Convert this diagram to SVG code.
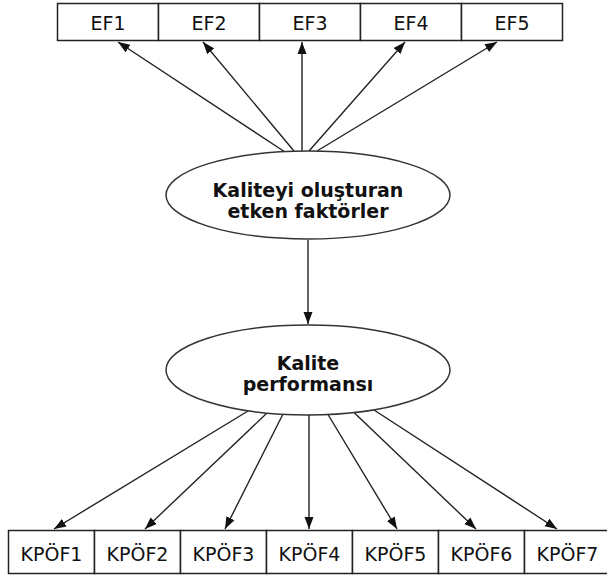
<svg xmlns="http://www.w3.org/2000/svg" width="607" height="579" viewBox="0 0 607 579">
<defs>
<marker id="ah" viewBox="0 0 12 10" refX="12" refY="5" markerWidth="12" markerHeight="10" markerUnits="userSpaceOnUse" orient="auto">
<path d="M0,0.5 L12,5 L0,9.5 z" fill="#111"/>
</marker>
<style>
.box{fill:#fff;stroke:#222;stroke-width:1.5}
.ell{fill:#fff;stroke:#333;stroke-width:1.5}
.lbl{font-family:"DejaVu Sans","Verdana",sans-serif;font-size:19px;fill:#111;text-anchor:middle}
.bold{font-family:"DejaVu Sans","Verdana",sans-serif;font-size:19px;font-weight:bold;fill:#111;text-anchor:middle}
.con line{stroke:#222;stroke-width:1.4;marker-end:url(#ah)}
</style>
</defs>
<rect width="607" height="579" fill="#fff"/>
<g id="connectors" class="con">
<line x1="285" y1="152" x2="118" y2="42"/>
<line x1="294" y1="151" x2="203" y2="42"/>
<line x1="302" y1="151" x2="302" y2="42"/>
<line x1="309" y1="151" x2="405" y2="42"/>
<line x1="317" y1="151" x2="497" y2="42"/>
<line x1="308" y1="240" x2="308" y2="324"/>
<line x1="248" y1="411" x2="54" y2="529"/>
<line x1="267" y1="413" x2="145" y2="529"/>
<line x1="283" y1="414" x2="225" y2="529"/>
<line x1="309" y1="415" x2="309" y2="529"/>
<line x1="328" y1="414.5" x2="397" y2="529"/>
<line x1="354" y1="412.5" x2="476" y2="529"/>
<line x1="374" y1="410" x2="557" y2="529"/>
</g>
<g id="EF1"><rect class="box" x="57.5" y="3.5" width="101" height="37"/><text class="lbl" x="108" y="30">EF1</text></g>
<g id="EF2"><rect class="box" x="158.5" y="3.5" width="101" height="37"/><text class="lbl" x="209" y="30">EF2</text></g>
<g id="EF3"><rect class="box" x="259.5" y="3.5" width="101" height="37"/><text class="lbl" x="310" y="30">EF3</text></g>
<g id="EF4"><rect class="box" x="360.5" y="3.5" width="101" height="37"/><text class="lbl" x="411" y="30">EF4</text></g>
<g id="EF5"><rect class="box" x="461.5" y="3.5" width="101" height="37"/><text class="lbl" x="512" y="30">EF5</text></g>
<g id="etken"><ellipse class="ell" cx="308" cy="195" rx="142" ry="44"/><text class="bold" x="308" y="197">Kaliteyi oluşturan</text><text class="bold" x="308" y="218">etken faktörler</text></g>
<g id="performans"><ellipse class="ell" cx="308" cy="370" rx="142" ry="45"/><text class="bold" x="308" y="370">Kalite</text><text class="bold" x="308" y="391">performansı</text></g>
<g id="KPOF1"><rect class="box" x="8.5" y="530.5" width="86" height="43"/><text class="lbl" x="51.5" y="561">KPÖF1</text></g>
<g id="KPOF2"><rect class="box" x="94.5" y="530.5" width="86" height="43"/><text class="lbl" x="137.5" y="561">KPÖF2</text></g>
<g id="KPOF3"><rect class="box" x="180.5" y="530.5" width="86" height="43"/><text class="lbl" x="223.5" y="561">KPÖF3</text></g>
<g id="KPOF4"><rect class="box" x="266.5" y="530.5" width="86" height="43"/><text class="lbl" x="309.5" y="561">KPÖF4</text></g>
<g id="KPOF5"><rect class="box" x="352.5" y="530.5" width="86" height="43"/><text class="lbl" x="395.5" y="561">KPÖF5</text></g>
<g id="KPOF6"><rect class="box" x="438.5" y="530.5" width="86" height="43"/><text class="lbl" x="481.5" y="561">KPÖF6</text></g>
<g id="KPOF7"><rect class="box" x="524.5" y="530.5" width="86" height="43"/><text class="lbl" x="567.5" y="561">KPÖF7</text></g>
</svg>
